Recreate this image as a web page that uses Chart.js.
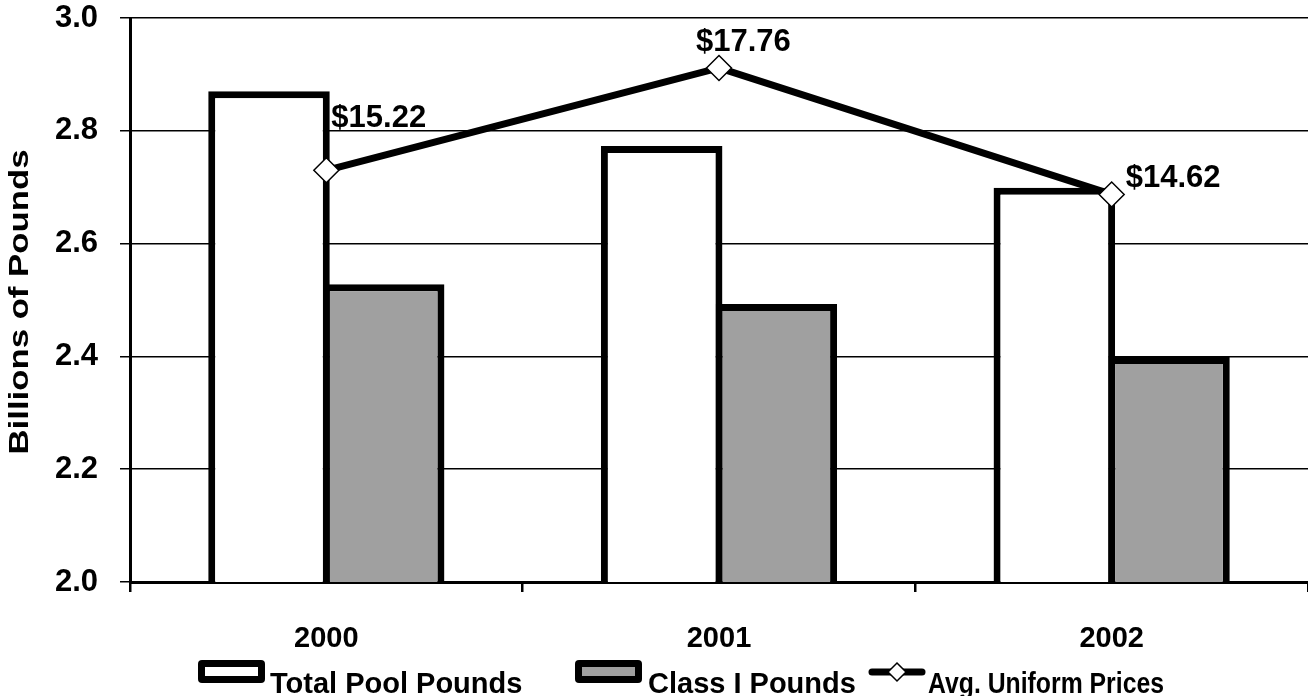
<!DOCTYPE html>
<html>
<head>
<meta charset="utf-8">
<script src="https://cdn.jsdelivr.net/npm/chart.js@4.4.1/dist/chart.umd.min.js"></script>
<style>
  html, body { margin: 0; padding: 0; background: #fff; overflow: hidden; }
  #wrap { position: relative; width: 1308px; height: 696px; }
</style>
</head>
<body>
<div id="wrap"><canvas id="c"></canvas></div>
<script>
// ---- data ----
const categories = ['2000', '2001', '2002'];
const totalPoolPounds = [2.870, 2.773, 2.699];
const classIPounds = [2.528, 2.493, 2.399];
const avgUniformPrices = [15.22, 17.76, 14.62];
const priceLabels = ['$15.22', '$17.76', '$14.62'];
const seriesNames = ['Total Pool Pounds', 'Class I Pounds', 'Avg. Uniform Prices'];
const yAxisTitle = 'Billions of Pounds';
const yMin = 2.0, yMax = 3.0, yStep = 0.2;
const priceMin = 5, priceMax = 19;

const FONT = '"Liberation Sans", Arial, sans-serif';

// price labels drawn next to the line points
const priceLabelPlugin = {
  id: 'priceLabels',
  afterDatasetsDraw(chart) {
    const ctx = chart.ctx;
    const meta = chart.getDatasetMeta(0);
    const offs = [[5, -43], [-23, -17], [14, -7]];
    ctx.save();
    ctx.font = 'bold 31px ' + FONT;
    ctx.fillStyle = '#000';
    ctx.textAlign = 'left';
    ctx.textBaseline = 'alphabetic';
    meta.data.forEach((pt, i) => {
      ctx.fillText(priceLabels[i], pt.x + offs[i][0], pt.y + offs[i][1]);
    });
    ctx.restore();
  }
};

// y-axis title, horizontally stretched like the original
const yTitlePlugin = {
  id: 'yTitle',
  afterDraw(chart) {
    const ctx = chart.ctx;
    ctx.save();
    ctx.font = 'bold 27px ' + FONT;
    const w0 = ctx.measureText(yAxisTitle).width;
    const target = 305;
    ctx.fillStyle = '#000';
    ctx.textAlign = 'center';
    ctx.textBaseline = 'middle';
    ctx.translate(21, 302);
    ctx.rotate(-Math.PI / 2);
    ctx.scale(target / w0, 1);
    ctx.fillText(yAxisTitle, 0, 0);
    ctx.restore();
  }
};

// custom legend at the bottom
const legendPlugin = {
  id: 'customLegend',
  afterDraw(chart) {
    const ctx = chart.ctx;
    const items = [
      { kind: 'box', fill: '#ffffff', x: 198, tx: 270, maxW: 258, label: seriesNames[0] },
      { kind: 'box', fill: '#a0a0a0', x: 575, tx: 648, maxW: 210, label: seriesNames[1] },
      { kind: 'line', x: 869, tx: 928, maxW: 236, label: seriesNames[2] }
    ];
    ctx.save();
    items.forEach(it => {
      if (it.kind === 'box') {
        const bx = it.x, by = 660, bw = 67, bh = 23, r = 4;
        ctx.beginPath();
        ctx.roundRect(bx, by, bw, bh, r);
        ctx.fillStyle = '#000';
        ctx.fill();
        ctx.fillStyle = it.fill;
        ctx.fillRect(bx + 7, by + 7, bw - 14, bh - 14);
      } else {
        ctx.beginPath();
        ctx.lineWidth = 7;
        ctx.lineCap = 'round';
        ctx.strokeStyle = '#000';
        ctx.moveTo(it.x + 3, 672);
        ctx.lineTo(925 - 3, 672);
        ctx.stroke();
        const cx = 897, cy = 672, s = 9;
        ctx.beginPath();
        ctx.moveTo(cx, cy - s);
        ctx.lineTo(cx + s, cy);
        ctx.lineTo(cx, cy + s);
        ctx.lineTo(cx - s, cy);
        ctx.closePath();
        ctx.fillStyle = '#fff';
        ctx.fill();
        ctx.lineWidth = 1.5;
        ctx.stroke();
      }
      ctx.font = 'bold 29px ' + FONT;
      ctx.fillStyle = '#000';
      ctx.textAlign = 'left';
      ctx.textBaseline = 'alphabetic';
      ctx.fillText(it.label, it.tx, 693, it.maxW);
    });
    ctx.restore();
  }
};

function zeroPad(scale) {
  scale.paddingTop = 0;
  scale.paddingBottom = 0;
  scale.paddingLeft = 0;
  scale.paddingRight = 0;
}

new Chart(document.getElementById('c'), {
  type: 'bar',
  data: {
    labels: categories,
    datasets: [
      {
        type: 'line',
        label: seriesNames[2],
        data: avgUniformPrices,
        yAxisID: 'y2',
        borderColor: '#000',
        borderWidth: 7,
        pointStyle: 'rectRot',
        pointRadius: 12.5,
        pointHoverRadius: 12.5,
        pointBackgroundColor: '#fff',
        pointBorderColor: '#000',
        pointBorderWidth: 1.5,
        tension: 0,
        fill: false
      },
      {
        label: seriesNames[0],
        data: totalPoolPounds,
        backgroundColor: '#ffffff',
        borderColor: '#000',
        borderWidth: 7,
        borderSkipped: false,
        categoryPercentage: 0.584,
        barPercentage: 1.06
      },
      {
        label: seriesNames[1],
        data: classIPounds,
        backgroundColor: '#a0a0a0',
        borderColor: '#000',
        borderWidth: 7,
        borderSkipped: false,
        categoryPercentage: 0.584,
        barPercentage: 1.06
      }
    ]
  },
  options: {
    responsive: true,
    maintainAspectRatio: false,
    animation: false,
    events: [],
    layout: { autoPadding: false, padding: { top: 18, right: 0, bottom: 24, left: 0 } },
    plugins: {
      legend: { display: false },
      tooltip: { enabled: false }
    },
    scales: {
      x: {
        offset: true,
        grid: {
          display: true,
          offset: true,
          drawOnChartArea: false,
          drawTicks: true,
          tickLength: 10,
          color: '#000',
          lineWidth: 2.5
        },
        border: { display: true, color: '#000', width: 3 },
        ticks: {
          color: '#000',
          font: { family: FONT, size: 29, weight: 'bold' },
          padding: 30,
          maxRotation: 0
        },
        afterFit(scale) { scale.height = 90; zeroPad(scale); }
      },
      y: {
        min: yMin,
        max: yMax,
        ticks: {
          stepSize: yStep,
          color: '#000',
          font: { family: FONT, size: 31, weight: 'bold' },
          padding: 22,
          callback: v => Number(v).toFixed(1)
        },
        grid: {
          color: '#000',
          lineWidth: 1.5,
          tickLength: 10,
          drawTicks: true
        },
        border: { display: true, color: '#000', width: 3 },
        afterFit(scale) { scale.width = 130; zeroPad(scale); }
      },
      y2: {
        display: false,
        min: priceMin,
        max: priceMax,
        afterFit(scale) { zeroPad(scale); }
      }
    }
  },
  plugins: [priceLabelPlugin, yTitlePlugin, legendPlugin]
});
</script>
</body>
</html>
